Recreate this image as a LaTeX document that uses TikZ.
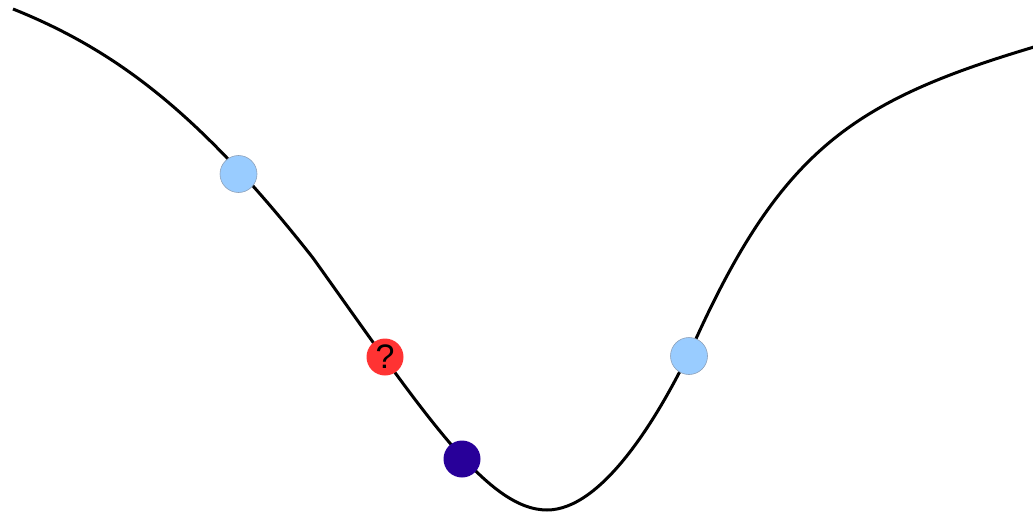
\documentclass[tikz,border=0pt]{standalone}
\usepackage{fontspec}
\setmainfont{Liberation Sans}
\begin{document}
\begin{tikzpicture}[x=1pt,y=-1pt,
  ball/.style={circle,minimum size=37pt,inner sep=0pt},
  lightball/.style={ball,fill={rgb,255:red,153;green,204;blue,255},draw={rgb,255:red,140;green,160;blue,185},line width=0.6pt},
  redball/.style={ball,fill={rgb,255:red,255;green,51;blue,51},font=\fontsize{34}{34}\selectfont},
  darkball/.style={ball,fill={rgb,255:red,40;green,0;blue,153}},
  curve/.style={line width=3pt}]
\useasboundingbox (0,0) rectangle (1033,516);
\coordinate (s) at (13,9);
\coordinate (m1) at (313,258);
\coordinate (low) at (547,510);
\coordinate (m2) at (700,330);
\coordinate (e) at (1034,47);
\draw[curve] (s) .. controls (122,52.6) and (204,119.6) .. (m1)
  .. controls (423,412) and (487,510) .. (low)
  .. controls (602,510) and (660,418) .. (m2)
  .. controls (785,147) and (858,99.5) .. (e);
\node[lightball] (b1) at (238.5,174) {};
\node[redball] (q) at (385,357) {?};
\node[darkball] (d) at (462,459) {};
\node[lightball] (b2) at (689,356) {};
\end{tikzpicture}
\end{document}
